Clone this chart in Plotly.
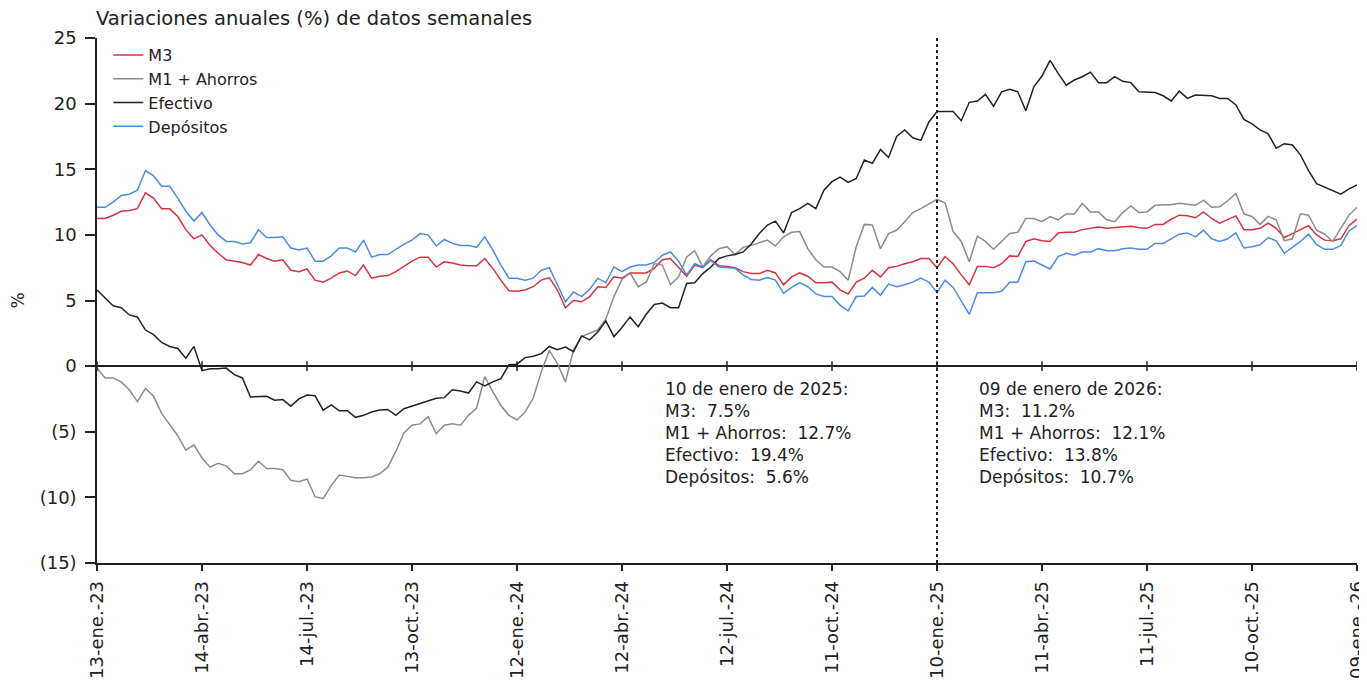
"""
Variaciones anuales (%) de datos semanales: M3, M1 + Ahorros, Efectivo, Depósitos.
"""
import plotly.graph_objects as go
import pandas as pd

# ── Data (weekly, 13-ene-23 .. 09-ene-26) ──
start_date = '2023-01-13'
n_weeks = 157
dates = pd.date_range(start_date, periods=n_weeks, freq='7D')

m3 = [
    11.25, 11.25, 11.5, 11.8, 11.85, 12.0, 13.2, 12.8, 12.0, 12.0, 11.4, 10.4, 9.7, 10.0, 9.2,
    8.6, 8.1, 8.0, 7.9, 7.7, 8.5, 8.2, 8.0, 8.1, 7.3, 7.2, 7.4, 6.55, 6.4, 6.7, 7.1, 7.25, 6.9,
    7.7, 6.7, 6.85, 6.9, 7.2, 7.6, 8.0, 8.3,
    8.3, 7.55, 7.95, 7.85, 7.7, 7.65, 7.65, 8.2, 7.45, 6.55, 5.75, 5.7, 5.8, 6.05, 6.55, 6.75,
    5.8, 4.45, 5.0, 4.9, 5.3, 6.05, 6.0, 6.8, 6.7, 7.1, 7.1, 7.1, 7.45, 8.1, 8.2, 7.55, 6.85,
    7.7, 7.5, 8.1, 7.65, 7.6, 7.5,
    7.2, 7.05, 7.05, 7.3, 7.1, 6.2, 6.8, 7.1, 6.85, 6.35, 6.35, 6.4, 5.8, 5.5, 6.4, 6.7, 7.3,
    6.8, 7.5, 7.6, 7.8, 7.95, 8.2, 8.2, 7.5, 8.35, 7.8, 6.95, 6.2, 7.6, 7.6, 7.5, 7.8, 8.4,
    8.35, 9.5, 9.7, 9.55, 9.5,
    10.15, 10.2, 10.2, 10.4, 10.5, 10.6, 10.5, 10.55, 10.65, 10.65, 10.55, 10.5, 10.8, 10.8,
    11.2, 11.5, 11.45, 11.3, 11.75, 11.25, 10.9, 11.2, 11.45, 10.4, 10.4, 10.5, 10.9, 10.5,
    9.8, 10.1, 10.4, 10.7, 10.0, 9.6, 9.55, 9.7, 10.7, 11.2,
]
m1_ahorros = [
    -0.15, -0.9, -0.9, -1.2, -1.8, -2.7, -1.7, -2.3, -3.6, -4.5, -5.3, -6.4, -6.0, -7.0, -7.7,
    -7.4, -7.6, -8.2, -8.2, -7.9, -7.25, -7.8, -7.8, -7.9, -8.7, -8.8, -8.6, -9.95, -10.1,
    -9.1, -8.3, -8.4, -8.5, -8.5, -8.45, -8.2, -7.7, -6.5, -5.1, -4.5, -4.4,
    -3.85, -5.15, -4.5, -4.4, -4.5, -3.75, -3.2, -0.8, -1.95, -3.0, -3.75, -4.1, -3.5, -2.45,
    -0.45, 1.2, 0.2, -1.2, 1.25, 2.25, 2.5, 2.75, 3.6, 5.3, 6.6, 7.1, 6.05, 6.4, 7.8, 7.7,
    6.2, 6.8, 8.3, 8.8, 7.55, 8.4, 8.95, 9.1, 8.5,
    9.05, 9.2, 9.4, 9.6, 9.15, 9.85, 10.2, 10.25, 8.95, 8.1, 7.55, 7.55, 7.2, 6.55, 9.1, 10.8,
    10.75, 8.95, 10.1, 10.35, 11.0, 11.7, 12.0, 12.35, 12.7, 12.45, 10.25, 9.5, 7.95, 9.9,
    9.5, 8.9, 9.5, 10.1, 10.2, 11.25, 11.25, 11.0, 11.4,
    11.15, 11.6, 11.6, 12.4, 11.75, 11.75, 11.15, 11.0, 11.7, 12.2, 11.7, 11.75, 12.25, 12.3,
    12.3, 12.4, 12.3, 12.25, 12.65, 12.1, 12.15, 12.6, 13.15, 11.6, 11.4, 10.8, 11.4, 11.15,
    9.55, 9.7, 11.6, 11.5, 10.35, 10.05, 9.5, 10.5, 11.5, 12.1,
]
efectivo = [
    5.8, 5.2, 4.6, 4.45, 3.9, 3.75, 2.75, 2.4, 1.8, 1.5, 1.35, 0.6, 1.5, -0.35, -0.2, -0.2,
    -0.15, -0.65, -0.9, -2.35, -2.3, -2.3, -2.6, -2.55, -3.05, -2.5, -2.2, -2.25, -3.35,
    -2.95, -3.4, -3.4, -3.9, -3.75, -3.5, -3.35, -3.3, -3.75, -3.25, -3.05, -2.9,
    -2.7, -2.45, -2.4, -1.8, -1.9, -2.05, -1.2, -1.5, -1.2, -0.95, 0.1, 0.15, 0.65, 0.75,
    0.95, 1.5, 1.25, 1.45, 1.1, 2.3, 2.0, 2.6, 3.45, 2.25, 2.95, 3.75, 3.0, 3.95, 4.7, 4.8,
    4.45, 4.45, 6.3, 6.35, 7.05, 7.55, 8.2, 8.4, 8.5,
    8.7, 9.3, 10.1, 10.75, 11.05, 10.15, 11.7, 12.0, 12.4, 12.0, 13.4, 14.05, 14.4, 14.0,
    14.3, 15.7, 15.45, 16.5, 15.9, 17.5, 18.0, 17.4, 17.2, 18.6, 19.4, 19.4, 19.4, 18.7,
    20.1, 20.2, 20.7, 19.8, 20.9, 21.1, 20.9, 19.45, 21.3, 22.1, 23.3,
    22.3, 21.4, 21.8, 22.05, 22.4, 21.6, 21.6, 22.05, 21.7, 21.6, 20.9, 20.9, 20.85, 20.6,
    20.2, 20.95, 20.4, 20.65, 20.65, 20.6, 20.4, 20.4, 19.9, 18.8, 18.45, 18.0, 17.7, 16.6,
    16.95, 16.85, 16.1, 14.9, 13.9, 13.65, 13.35, 13.1, 13.5, 13.8,
]
depositos = [
    12.1, 12.1, 12.5, 13.0, 13.1, 13.4, 14.9, 14.5, 13.7, 13.7, 12.8, 11.8, 11.05, 11.7,
    10.75, 10.0, 9.5, 9.5, 9.3, 9.4, 10.4, 9.8, 9.8, 9.85, 9.0, 8.85, 9.0, 8.0, 8.0, 8.4,
    9.0, 9.0, 8.7, 9.6, 8.3, 8.5, 8.5, 8.9, 9.3, 9.6, 10.1,
    10.0, 9.15, 9.65, 9.35, 9.2, 9.2, 9.05, 9.85, 8.85, 7.7, 6.7, 6.7, 6.55, 6.7, 7.3, 7.5,
    6.2, 4.9, 5.65, 5.3, 5.85, 6.7, 6.35, 7.55, 7.2, 7.55, 7.7, 7.7, 7.9, 8.45, 8.7, 8.0,
    6.95, 7.8, 7.55, 8.05, 7.55, 7.5, 7.45,
    6.95, 6.6, 6.55, 6.75, 6.55, 5.55, 6.0, 6.35, 6.05, 5.5, 5.3, 5.3, 4.65, 4.2, 5.3, 5.35,
    6.0, 5.4, 6.25, 6.05, 6.2, 6.4, 6.7, 6.4, 5.6, 6.55, 6.0, 4.95, 3.95, 5.6, 5.6, 5.6,
    5.7, 6.4, 6.4, 7.95, 8.0, 7.7, 7.4,
    8.35, 8.6, 8.45, 8.7, 8.7, 8.95, 8.8, 8.8, 8.95, 9.0, 8.9, 8.9, 9.35, 9.35, 9.7, 10.05,
    10.15, 9.85, 10.35, 9.7, 9.5, 9.7, 10.15, 9.0, 9.1, 9.25, 9.8, 9.55, 8.6, 9.05, 9.5,
    10.05, 9.25, 8.9, 8.9, 9.2, 10.3, 10.7,
]

tick_labels = [
    '13-ene.-23', '14-abr.-23', '14-jul.-23', '13-oct.-23', '12-ene.-24', '12-abr.-24',
    '12-jul.-24', '11-oct.-24', '10-ene.-25', '11-abr.-25', '11-jul.-25', '10-oct.-25',
    '09-ene.-26',
]
y_ticks = [-15, -10, -5, 0, 5, 10, 15, 20, 25]
y_tick_labels = ['(15)', '(10)', '(5)', '0', '5', '10', '15', '20', '25']

ref_idx = 104          # 10-ene-25, marked with the dotted line
ref_label = '10 de enero de 2025:'
last_label = '09 de enero de 2026:'

# ── Style ──
_FONT = 'DejaVu Sans, Verdana, sans-serif'
_INK = '#222222'
_SERIES = [
    ('M3', m3, '#d9323f'),
    ('M1 + Ahorros', m1_ahorros, '#8c8c8c'),
    ('Efectivo', efectivo, _INK),
    ('Depósitos', depositos, '#4a8be8'),
]
# the page body adds an 8px margin, so the figure is sized to fit inside it
_W, _H = 1359, 675

tick_dates = dates[::13]

fig = go.Figure()
for name, vals, color in _SERIES:
    fig.add_trace(go.Scatter(
        x=dates, y=vals, mode='lines', name=name,
        line=dict(color=color, width=1.5),
    ))

# small tick marks sitting on the zero line
fig.add_trace(go.Scatter(
    x=tick_dates, y=[0] * len(tick_dates), mode='markers',
    marker=dict(symbol='line-ns', size=7, line=dict(width=1.5, color=_INK)),
    showlegend=False, hoverinfo='skip',
))

fig.add_vline(x=dates[ref_idx], line_dash='dot', line_color=_INK, line_width=2)


def _box(label, i):
    return '<br>'.join([
        label,
        f'M3:  {m3[i]:.1f}%',
        f'M1 + Ahorros:  {m1_ahorros[i]:.1f}%',
        f'Efectivo:  {efectivo[i]:.1f}%',
        f'Depósitos:  {depositos[i]:.1f}%',
    ])


for xp, txt in [(0.4495, _box(ref_label, ref_idx)), (0.6985, _box(last_label, -1))]:
    fig.add_annotation(
        text=txt, x=xp, xref='paper', y=-0.8, yref='y',
        xanchor='left', yanchor='top', align='left', showarrow=False,
        font=dict(size=17, color=_INK),
    )

fig.update_layout(
    width=_W, height=_H,
    paper_bgcolor='white', plot_bgcolor='white',
    font=dict(family=_FONT, color=_INK, size=17),
    margin=dict(l=89, r=10, t=30, b=120),
    title=dict(
        text='Variaciones anuales (%) de datos semanales',
        x=88 / _W, xanchor='left', y=1 - 10 / _H, yanchor='middle',
        font=dict(size=19.5, color=_INK),
    ),
    showlegend=True,
    legend=dict(
        x=0.009, y=1.0, xanchor='left', yanchor='top',
        bgcolor='rgba(0,0,0,0)', font=dict(size=16, color=_INK),
    ),
    xaxis=dict(
        range=[dates[0], dates[-1]], showgrid=False, zeroline=False,
        tickvals=tick_dates, ticktext=tick_labels, tickangle=-90,
        ticks='outside', ticklen=6, tickwidth=1.5, tickcolor=_INK,
        showline=True, linecolor=_INK, linewidth=1.5,
        tickfont=dict(size=18), ticklabelstandoff=3, automargin=False,
        ticklabeloverflow='allow',
    ),
    yaxis=dict(
        range=[-15, 25], showgrid=False,
        tickvals=y_ticks, ticktext=y_tick_labels,
        ticks='outside', ticklen=10, tickwidth=1.5, tickcolor=_INK,
        showline=True, linecolor=_INK, linewidth=1.5,
        zeroline=True, zerolinecolor=_INK, zerolinewidth=1.5,
        tickfont=dict(size=18), ticklabelstandoff=5, automargin=False,
        title=dict(text='%', standoff=14, font=dict(size=17)),
    ),
)

fig.write_html('out.html')
